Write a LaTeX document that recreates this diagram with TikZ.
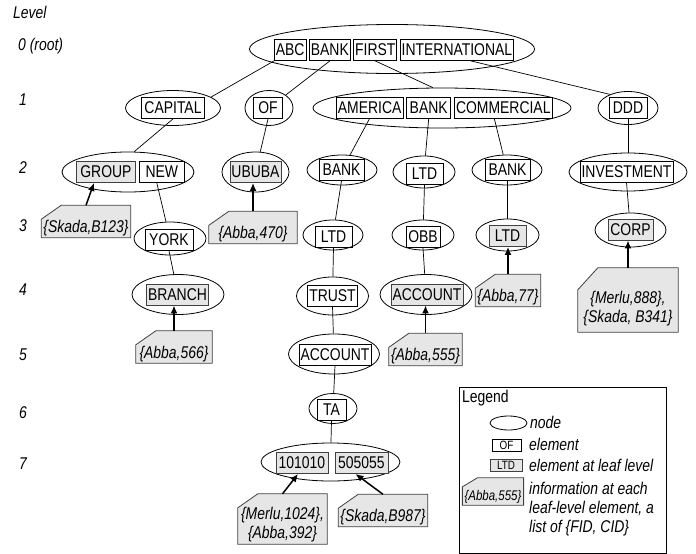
\documentclass[tikz,border=0pt]{standalone}
\usepackage{fontspec}
\setmainfont{Liberation Sans}[FakeStretch=0.82]
\usetikzlibrary{arrows.meta,shapes,positioning,backgrounds}
\definecolor{leafgray}{HTML}{E6E6E6}
\newcommand{\trfont}{\fontsize{17}{19}\selectfont}

\begin{document}
\begin{tikzpicture}[x=1pt,y=-1pt,>={Latex[length=8pt,width=7pt]},font=\trfont]
  \tikzstyle{tnode}=[ellipse,draw,line width=0.8pt,inner sep=0pt]
  \tikzstyle{elem}=[rectangle,draw,line width=0.8pt,inner xsep=1.5pt,inner ysep=0pt,minimum height=21pt,minimum width=29pt]
  \tikzstyle{leaf}=[elem,fill=leafgray,draw=black!75,line width=0.9pt]
  \tikzstyle{infonote}=[rectangle,inner xsep=2pt,inner ysep=2pt,text height=25pt,text depth=3pt,align=center,font=\trfont\itshape]
  \tikzstyle{lvl}=[anchor=west,inner sep=0pt,font=\trfont\itshape]
  \tikzstyle{treeline}=[line width=0.7pt]
  \tikzstyle{infoarrow}=[->,line width=1.5pt]

  \useasboundingbox (0,0) rectangle (696,554);

  % levels
  \node[lvl] (lvtitle) at (13,12) {Level};
  \node[lvl] (lv0) at (18,46) {0 (root)};
  \foreach \l/\y in {1/100,2/168,3/226,4/290,5/355,6/413,7/464}
    \node[lvl] (lv\l) at (19,\y) {\l};

  % level 0
  \node[tnode,minimum width=285pt,minimum height=49pt] (nroot) at (392,49) {};
  \node[elem,anchor=west] (abc) at (274,50) {ABC};
  \node[elem,right=2.5pt of abc] (bank0) {BANK};
  \node[elem,right=2.5pt of bank0] (first) {FIRST};
  \node[elem,right=2.5pt of first] (intl) {INTERNATIONAL};

  % level 1
  \node[tnode,minimum width=95pt,minimum height=35pt] (ncap) at (173,108) {};
  \node[elem,minimum width=63pt] (capital) at (173,108) {CAPITAL};
  \node[tnode,minimum width=48pt,minimum height=35pt] (nof) at (269,108) {};
  \node[elem] (of) at (268,108) {OF};
  \node[tnode,minimum width=258pt,minimum height=40pt] (namer) at (442,108) {};
  \node[elem,anchor=west] (america) at (336,107.5) {AMERICA};
  \node[elem,right=3pt of america,minimum width=44pt] (bank1) {BANK};
  \node[elem,right=3pt of bank1] (commercial) {COMMERCIAL};
  \node[tnode,minimum width=60pt,minimum height=33pt] (nddd) at (628,108) {};
  \node[elem,minimum width=38pt] (ddd) at (628,108) {DDD};

  % level 2
  \node[tnode,minimum width=132pt,minimum height=40pt] (ngn) at (128,172) {};
  \node[leaf,anchor=west,minimum width=59pt] (group) at (76,172) {GROUP};
  \node[elem,right=3pt of group,minimum width=45pt] (new) {NEW};
  \node[tnode,minimum width=67pt,minimum height=40pt] (nububa) at (255.5,172) {};
  \node[leaf] (ububa) at (255.5,172) {UBUBA};
  \node[tnode,minimum width=70pt,minimum height=30pt] (nbank2) at (342,170) {};
  \node[elem,minimum width=45pt] (bank2) at (341.5,170) {BANK};
  \node[tnode,minimum width=62pt,minimum height=32pt] (nltd2) at (424,172) {};
  \node[elem,minimum width=37pt] (ltd2) at (424.5,173.5) {LTD};
  \node[tnode,minimum width=70pt,minimum height=30pt] (nbank3) at (507,170) {};
  \node[elem,minimum width=45pt] (bank3) at (507.5,170) {BANK};
  \node[tnode,minimum width=118pt,minimum height=38pt] (ninv) at (628,172) {};
  \node[elem] (invest) at (626.5,171.5) {INVESTMENT};

  % level 3
  \node[tnode,minimum width=72pt,minimum height=33pt] (nyork) at (170,238.5) {};
  \node[elem,minimum width=48pt] (york) at (169,240) {YORK};
  \node[tnode,minimum width=60pt,minimum height=30pt] (nltd3) at (333,235) {};
  \node[elem,minimum width=37pt] (ltd3) at (333.5,237) {LTD};
  \node[tnode,minimum width=62pt,minimum height=30pt] (nobb) at (423,235) {};
  \node[elem,minimum width=34pt] (obb) at (423,237) {OBB};
  \node[tnode,minimum width=63pt,minimum height=32pt] (nltd4) at (507.5,235) {};
  \node[leaf,minimum width=37pt] (ltd4) at (507.5,236) {LTD};
  \node[tnode,minimum width=71pt,minimum height=34pt] (ncorp) at (630.5,230) {};
  \node[leaf,minimum width=45pt] (corp) at (630.5,229.5) {CORP};

  % level 4
  \node[tnode,minimum width=92pt,minimum height=40pt] (nbranch) at (178,294.5) {};
  \node[leaf] (branch) at (177.5,294.5) {BRANCH};
  \node[tnode,minimum width=72pt,minimum height=38pt] (ntrust) at (332.5,296) {};
  \node[elem] (trust) at (332.5,295.5) {TRUST};
  \node[tnode,minimum width=92pt,minimum height=40pt] (nacc1) at (426,294.5) {};
  \node[leaf] (acc1) at (427,294.5) {ACCOUNT};

  % level 5 - 7
  \node[tnode,minimum width=91pt,minimum height=40pt] (nacc2) at (334,354) {};
  \node[elem] (acc2) at (335,355) {ACCOUNT};
  \node[tnode,minimum width=48pt,minimum height=30pt] (nta) at (333,408.5) {};
  \node[elem] (ta) at (331.5,410) {TA};
  \node[tnode,minimum width=139pt,minimum height=38pt] (nleaf) at (330.5,462) {};
  \node[leaf,minimum width=52pt] (n101) at (302,463) {101010};
  \node[leaf,minimum width=53pt] (n505) at (361.5,463) {505055};

  % tree edges
  \draw[treeline] (abc.south west) -- (ncap.16);
  \draw[treeline] (bank0.south) -- (nof);
  \draw[treeline] (first.south) -- (namer.114);
  \draw[treeline] ([xshift=14pt]intl.south) -- (nddd.143);
  \draw[treeline] (capital.south) -- (ngn.73);
  \draw[treeline] (of.south) -- (nububa);
  \draw[treeline] (america.south) -- (nbank2);
  \draw[treeline] (bank1.south) -- (nltd2);
  \draw[treeline] ([xshift=-9pt]commercial.south) -- (nbank3);
  \draw[treeline] (ddd.south) -- (ninv);
  \draw[treeline] ([xshift=-5pt]new.south) -- (nyork);
  \draw[treeline] (bank2.south) -- (nltd3);
  \draw[treeline] (ltd2.south) -- (nobb);
  \draw[treeline] (bank3.south) -- (nltd4);
  \draw[treeline] (invest.south) -- (ncorp);
  \draw[treeline] (york.south) -- (nbranch);
  \draw[treeline] (ltd3.south) -- (ntrust);
  \draw[treeline] (obb.south) -- (nacc1);
  \draw[treeline] (trust.south) -- (nacc2);
  \draw[treeline] (acc2.south) -- (nta);
  \draw[treeline] (ta.south) -- (nleaf);

  % leaf information
  \node[infonote,minimum width=88pt] (iB123) at (86,221.5) {\{Skada,B123\}};
  \node[infonote,minimum width=88pt] (i470) at (253,227.5) {\{Abba,470\}};
  \node[infonote,minimum width=76pt] (i566) at (174,347) {\{Abba,566\}};
  \node[infonote,minimum width=73pt] (i555) at (425.5,349.5) {\{Abba,555\}};
  \node[infonote,minimum width=64pt] (i77) at (508,290.5) {\{Abba,77\}};
  \node[infonote,minimum width=100pt,text height=52pt,text depth=8pt] (i888) at (628,300) {\{Merlu,888\},\\\{Skada, B341\}};
  \node[infonote,minimum width=89pt,text height=42pt,text depth=4pt] (i1024) at (282.5,519) {\{Merlu,1024\},\\\{Abba,392\}};
  \node[infonote,minimum width=88pt] (i987) at (383,510.5) {\{Skada,B987\}};

  \draw[infoarrow] (iB123.north) -- ([xshift=-12pt]group.south);
  \draw[infoarrow] (i470.north) -- (i470.north |- ububa.south);
  \draw[infoarrow] (i566.north) -- (i566.north |- branch.south);
  \draw[infoarrow] (i555.north) -- (i555.north |- acc1.south);
  \draw[infoarrow] (i77.north) -- (i77.north |- ltd4.south);
  \draw[infoarrow] (i888.north) -- (i888.north |- corp.south);
  \draw[infoarrow] (i1024.north) -- ([xshift=-4pt]n101.south);
  \draw[infoarrow] (i987.north) -- ([xshift=-6pt]n505.south);

  % legend
  \node[draw,line width=0.8pt,minimum width=207pt,minimum height=166pt,inner sep=0pt] (legend) at (562.5,470) {};
  \node[anchor=west,inner sep=0pt] (legtitle) at (462,398) {Legend};
  \node[ellipse,draw,line width=0.8pt,minimum width=37pt,minimum height=14pt,inner sep=0pt] (legnode) at (508.5,423) {};
  \node[lvl] (legnodetxt) at (530,422) {node};
  \node[draw,line width=0.8pt,font=\fontsize{12}{13}\selectfont,minimum width=29pt,minimum height=12pt,inner sep=0pt] (legelem) at (506.5,445.5) {OF};
  \node[lvl] (legelemtxt) at (529,444) {element};
  \node[draw=black!75,fill=leafgray,line width=0.9pt,font=\fontsize{12}{13}\selectfont,minimum width=32pt,minimum height=12pt,inner sep=0pt] (legleaf) at (506,465) {LTD};
  \node[lvl] (legleaftxt) at (529,465) {element at leaf level};
  \node[infonote,minimum width=60pt,text height=20pt,font=\fontsize{14}{16}\selectfont\itshape] (leginfo) at (493,491.5) {\{Abba,555\}};
  \node[lvl,align=left] (leginfotxt) at (529,509) {information at each\\leaf-level element, a\\list of \{FID, CID\}};

  % note outlines
  \begin{scope}[on background layer]
    \foreach \n/\c/\w in {iB123/14pt/20pt,i470/14pt/20pt,i566/14pt/20pt,i555/14pt/20pt,i77/14pt/20pt,i888/22pt/20pt,i1024/14pt/20pt,i987/14pt/20pt,leginfo/9pt/15pt}
      \filldraw[fill=leafgray,draw=black!75,line width=0.8pt] ([yshift=-\c]\n.north west) -- ([xshift=\w]\n.north west) -- (\n.north east) -- (\n.south east) -- (\n.south west) -- cycle;
  \end{scope}
\end{tikzpicture}
\end{document}
